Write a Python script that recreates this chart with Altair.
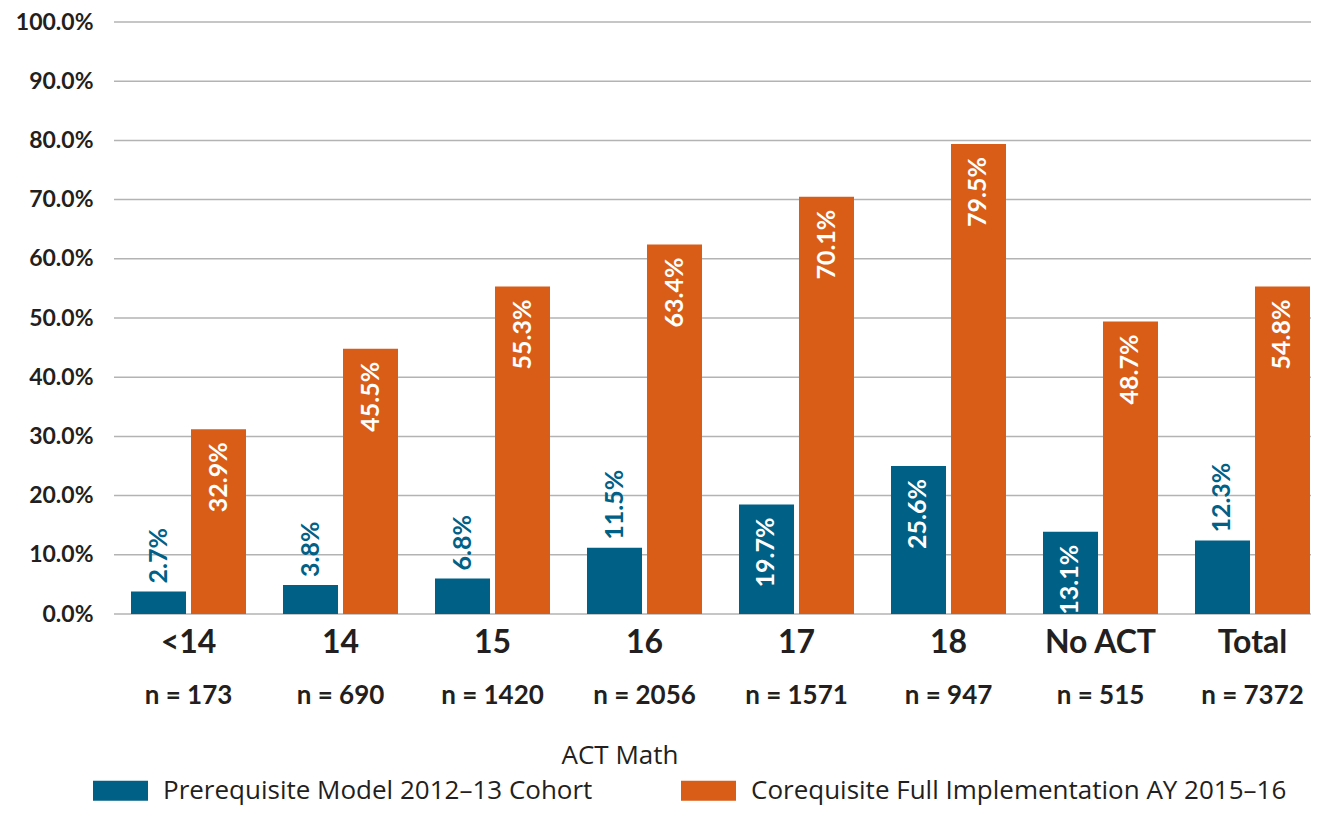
import altair as alt
import pandas as pd

# ---- data ----
categories = ["<14", "14", "15", "16", "17", "18", "No ACT", "Total"]
n_labels = ["n = 173", "n = 690", "n = 1420", "n = 2056", "n = 1571", "n = 947", "n = 515", "n = 7372"]
series = ["Prerequisite Model 2012–13 Cohort", "Corequisite Full Implementation AY 2015–16"]
prereq_bar = [3.8, 4.9, 6.0, 11.2, 18.5, 25.0, 13.9, 12.4]
prereq_label = ["2.7%", "3.8%", "6.8%", "11.5%", "19.7%", "25.6%", "13.1%", "12.3%"]
coreq_bar = [31.2, 44.8, 55.3, 62.4, 70.5, 79.4, 49.4, 55.3]
coreq_label = ["32.9%", "45.5%", "55.3%", "63.4%", "70.1%", "79.5%", "48.7%", "54.8%"]
y_ticks = [0, 10, 20, 30, 40, 50, 60, 70, 80, 90, 100]
x_title = "ACT Math"

colors = ["#006085", "#D95D16"]
text_dark = "#231F20"
FONT = "Lato"
FONT2 = "Open Sans"

rows = []
for i, c in enumerate(categories):
    rows.append({"cat": c, "n": n_labels[i], "series": series[0], "value": prereq_bar[i], "label": prereq_label[i]})
    rows.append({"cat": c, "n": n_labels[i], "series": series[1], "value": coreq_bar[i], "label": coreq_label[i]})
df = pd.DataFrame(rows)

W, H = 1197, 592

x_enc = alt.X("cat:N", sort=categories, axis=None,
              scale=alt.Scale(range=[17, 1196], paddingInner=0.2434, paddingOuter=0))
xo_enc = alt.XOffset("series:N", sort=series,
                     scale=alt.Scale(domain=series, paddingInner=0.0833, paddingOuter=0))
y_scale = alt.Scale(domain=[0, 100], nice=False)
y_axis = alt.Axis(values=y_ticks, title=None, domain=False, ticks=False, grid=False,
                  labelExpr="format(datum.value, '.1f') + '%'",
                  labelFont=FONT, labelFontSize=23, labelFontWeight="bold",
                  labelColor=text_dark, labelPadding=21)

grid = alt.Chart(pd.DataFrame({"tick": y_ticks})).mark_rule(
    color="#B3B3B3", strokeWidth=1.5
).encode(y=alt.Y("tick:Q", scale=y_scale, axis=y_axis), x=alt.value(0), x2=alt.value(W + 10))

base = alt.Chart(df)

bars = base.mark_bar().encode(
    x=x_enc, xOffset=xo_enc, y=alt.Y("value:Q", scale=y_scale, axis=y_axis),
    color=alt.Color("series:N", sort=series,
                    scale=alt.Scale(domain=series, range=colors),
                    legend=alt.Legend(title=None, orient="none", legendX=-21, legendY=741,
                                      direction="horizontal",
                                      symbolType="M-1,-0.3636H1V0.3636H-1Z",
                                      symbolSize=3025, symbolStrokeWidth=0, symbolOpacity=1,
                                      labelFont=FONT2, labelFontSize=26, labelColor=text_dark,
                                      labelOffset=15, columnPadding=88, labelLimit=800)),
)

labeled = base.transform_calculate(
    inside="datum.series == '" + series[1] + "' || datum.value > 13"
)

inside_labels = labeled.transform_filter("datum.inside").mark_text(
    angle=270, align="right", baseline="middle", dx=-13,
    font=FONT, fontSize=25, fontWeight="bold", color="white"
).encode(x=x_enc, xOffset=xo_enc, y=alt.Y("value:Q"), text="label:N")

outside_labels = labeled.transform_filter("!datum.inside").mark_text(
    angle=270, align="left", baseline="middle", dx=8,
    font=FONT, fontSize=25, fontWeight="bold", color=colors[0]
).encode(x=x_enc, xOffset=xo_enc, y=alt.Y("value:Q"), text="label:N")

cat_df = pd.DataFrame({"cat": categories, "n": n_labels})
cat_text = alt.Chart(cat_df).mark_text(
    baseline="middle", font=FONT, fontSize=32, fontWeight="bold", color=text_dark
).encode(x=x_enc, y=alt.value(H + 29), text="cat:N")

n_text = alt.Chart(cat_df).mark_text(
    baseline="middle", font=FONT, fontSize=26, fontWeight="bold", color=text_dark
).encode(x=x_enc, y=alt.value(H + 82), text="n:N")

title_text = alt.Chart(pd.DataFrame({"t": [x_title]})).mark_text(
    baseline="middle", font=FONT2, fontSize=26, color=text_dark
).encode(x=alt.value(506), y=alt.value(734), text="t:N")

chart = alt.layer(grid, bars, inside_labels, outside_labels, cat_text, n_text, title_text).properties(
    width=W, height=H,
    autosize=alt.AutoSizeParams(type="none"),
    padding={"left": 106, "top": 14, "right": 0, "bottom": 194},
).configure_view(stroke=None)

chart.save("out.html", embed_options={"renderer": "svg", "actions": False})
